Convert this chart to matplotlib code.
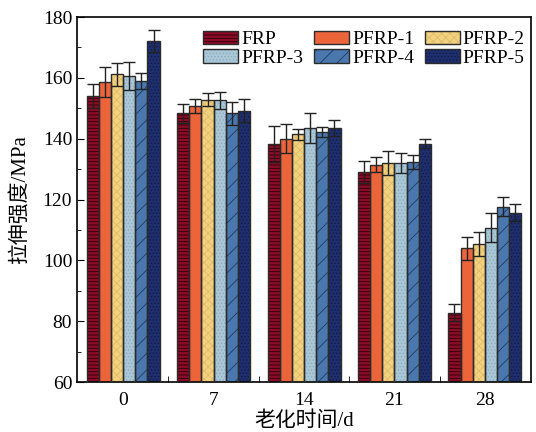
import numpy as np
import matplotlib
matplotlib.use("Agg")
import matplotlib.pyplot as plt
from matplotlib.patches import Patch
from matplotlib.ticker import MultipleLocator

plt.rcParams['font.family'] = ['Liberation Serif', 'Noto Sans CJK SC']
plt.rcParams['hatch.linewidth'] = 0.6

groups = ['0', '7', '14', '21', '28']
series = ['FRP', 'PFRP-1', 'PFRP-2', 'PFRP-3', 'PFRP-4', 'PFRP-5']

FRP   = [154.0, 148.3, 138.2, 129.1, 82.7]
PFRP1 = [158.7, 150.7, 140.0, 131.4, 103.9]
PFRP2 = [161.2, 152.8, 141.4, 132.0, 105.3]
PFRP3 = [160.7, 152.6, 143.5, 132.0, 110.8]
PFRP4 = [159.0, 148.3, 142.2, 132.3, 117.6]
PFRP5 = [172.0, 149.2, 143.5, 138.4, 115.6]

FRP_err   = [4.0, 3.2, 6.0, 3.7, 2.8]
PFRP1_err = [4.9, 2.4, 4.8, 2.5, 3.7]
PFRP2_err = [3.8, 2.2, 1.7, 3.9, 4.0]
PFRP3_err = [4.6, 2.9, 4.9, 3.4, 4.7]
PFRP4_err = [2.6, 3.9, 1.5, 2.4, 3.1]
PFRP5_err = [3.6, 3.7, 2.5, 1.6, 2.8]

values = [FRP, PFRP1, PFRP2, PFRP3, PFRP4, PFRP5]
errors = [FRP_err, PFRP1_err, PFRP2_err, PFRP3_err, PFRP4_err, PFRP5_err]

fills   = ['#8c0c28', '#ec653a', '#f3d17f', '#a9c7d7', '#4a78ae', '#1f2f6d']
hcolors = ['#2a0008', '#ec653a', '#dcbd6c', '#8dadbf', '#1e3a63', '#121c4a']
hatches = ['-----', None, 'xxxx', '.....', '//', '.....']

fig = plt.figure(figsize=(5.36, 4.32), dpi=100)
ax = fig.add_axes([0.1437, 0.1157, 0.8470, 0.8449])

x = np.arange(len(groups))
w = 0.1345
handles = []
for i, (vals, errs) in enumerate(zip(values, errors)):
    pos = x + (i - 2.5) * w
    ax.bar(pos, [v - 60 for v in vals], w, bottom=60, color=fills[i],
           edgecolor=hcolors[i], hatch=hatches[i], linewidth=0, zorder=2)
    ax.bar(pos, [v - 60 for v in vals], w, bottom=60, fill=False,
           edgecolor='#2b2b2b', linewidth=1.0, zorder=3)
    ax.errorbar(pos, vals, yerr=errs, fmt='none', ecolor='#222222',
                elinewidth=1.0, capsize=4, capthick=1.0, zorder=4)
    h1 = Patch(facecolor=fills[i], edgecolor=hcolors[i], hatch=hatches[i], linewidth=0)
    h2 = Patch(facecolor='none', edgecolor='#2b2b2b', linewidth=1.0)
    handles.append((h1, h2))

ax.set_xlim(-0.51, 4.51)
ax.set_ylim(60, 180)
ax.set_xticks(x)
ax.set_xticklabels(groups)
ax.set_xticks(x[:-1] + 0.5, minor=True)
ax.yaxis.set_major_locator(MultipleLocator(20))
ax.yaxis.set_minor_locator(MultipleLocator(10))
ax.tick_params(axis='both', which='both', direction='in', labelsize=14)
ax.tick_params(axis='x', which='major', length=0, pad=7)
ax.tick_params(axis='x', which='minor', length=4)
ax.tick_params(axis='y', which='major', length=5)
ax.tick_params(axis='y', which='minor', length=3)
for s in ax.spines.values():
    s.set_linewidth(1.2)

ax.set_ylabel('拉伸强度/MPa', fontsize=15, labelpad=9, fontweight='light')
ax.set_xlabel('老化时间/d', fontsize=15, labelpad=2, fontweight='light')

order = [0, 3, 1, 4, 2, 5]
leg = ax.legend([handles[k] for k in order], [series[k] for k in order],
                ncol=3, frameon=False, fontsize=14,
                loc='upper right', bbox_to_anchor=(1.012, 0.995),
                handlelength=1.8, handleheight=0.7, handletextpad=0.15,
                columnspacing=0.55, labelspacing=0.05, borderaxespad=0.2)

fig.savefig('out.png', dpi=100)
